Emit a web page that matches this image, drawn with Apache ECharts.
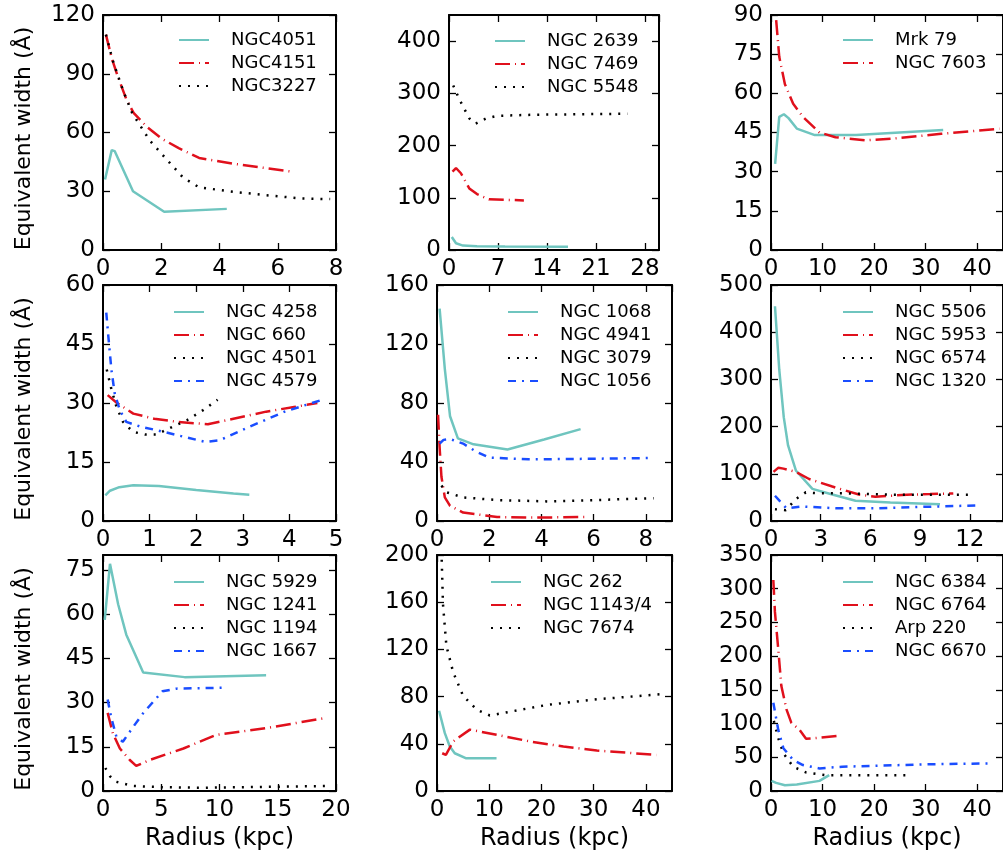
<!DOCTYPE html>
<html lang="en">
<head>
<meta charset="UTF-8">
<title>Equivalent width vs radius</title>
<script src="https://cdn.jsdelivr.net/npm/echarts@6/dist/echarts.min.js"></script>
<style>
  html, body { margin: 0; padding: 0; background: #fff; }
  #main { width: 1003px; height: 860px; }
</style>
</head>
<body>
<div id="main"></div>
<script>
// [radius (kpc), equivalent width (A)]
var ngc4051 = [[0.07,36],[0.3,51],[0.4,50.5],[1.03,30],[2.1,19.5],[4.25,21]];
var ngc4151 = [[0.1,110],[0.3,98],[0.5,89],[0.8,77],[1.05,70],[1.5,63],[2,57],[2.6,52],[3.3,47],[4.5,44],[5.5,42],[6.5,40]];
var ngc3227 = [[0.1,110],[0.35,96],[0.7,81],[1,70],[1.6,56],[2.2,46],[2.75,37],[3.3,32],[4.5,29.7],[5.6,28],[6.8,26.3],[7.8,26]];

var ngc2639 = [[0.4,25],[1,13],[2,8.5],[4,7],[8,6.5],[17,6]];
var ngc7469 = [[0.5,150],[1,157],[1.7,147],[2.9,118],[4,107],[5.7,97],[10.7,95]];
var ngc5548 = [[0.6,315],[1.5,288],[2.9,252],[3.8,242],[5.3,252],[7,257],[12,259],[25.5,261]];

var mrk79 = [[0.8,33],[1.6,51],[2.5,52],[3.4,50.5],[5,46.5],[8.5,44],[16.5,44],[33.4,46]];
var ngc7603 = [[1,88],[1.6,74],[2.7,63.5],[4.3,56],[6.2,51],[9.4,45],[12.5,43.2],[18.3,42],[23.4,42.6],[33,44.5],[44.3,46.4]];

var ngc4258 = [[0.05,6.5],[0.15,7.7],[0.35,8.6],[0.65,9.1],[1.2,8.9],[2,7.9],[2.8,7],[3.14,6.7]];
var ngc660 = [[0.1,32],[0.3,30],[0.65,27.3],[1.1,26],[1.6,25.2],[2.25,24.6],[2.8,26],[3.5,27.8],[4.1,29],[4.6,30]];
var ngc4501 = [[0.08,38.5],[0.18,33.5],[0.29,29],[0.43,25.2],[0.64,22.7],[0.9,22],[1.15,22],[1.5,24],[1.8,25.6],[2.15,28.2],[2.46,30.8]];
var ngc4579 = [[0.07,53],[0.11,47.5],[0.18,38.5],[0.25,32.5],[0.36,28.2],[0.5,25.2],[0.8,24],[1.15,23.1],[1.6,21.8],[2.2,20.1],[2.5,20.5],[3.15,24],[3.9,27.8],[4.7,30.8]];

var ngc1068 = [[0.1,144],[0.3,103],[0.5,71],[0.8,56],[1.4,52],[2.7,48.5],[4.1,55.3],[5.5,62.3]];
var ngc4941 = [[0.04,72],[0.1,50],[0.17,30],[0.3,16],[0.5,10.3],[1,5.7],[2.3,2.7],[3.6,2.3],[5.75,2.7]];
var ngc3079 = [[0.17,24],[0.36,19.5],[1,16],[2.3,14.2],[4.2,13.3],[6.1,14.2],[8.3,15.5]];
var ngc1056 = [[0.1,52.5],[0.25,55],[0.5,55.5],[1,52.5],[1.5,47],[2,43],[3.5,41.8],[6,42.2],[8.1,42.7]];

var ngc5506 = [[0.24,455],[0.5,320],[0.77,220],[1.03,160],[1.5,107],[2.5,68],[3.7,56],[5.1,43],[7.2,39.3],[10.2,35.7]];
var ngc5953 = [[0.15,104],[0.45,113],[0.75,111],[1.5,104],[2.3,89],[3.7,73],[5.3,56],[6.3,51.5],[8.2,55.7],[9.6,57],[11,58.5]];
var ngc6574 = [[0.24,25],[0.9,23],[1.5,46.5],[2.1,60.7],[2.9,58.6],[4.5,58.6],[7.2,55.7],[12.2,55.7]];
var ngc1320 = [[0.24,53.5],[0.55,41.5],[0.93,27],[1.9,30.7],[3.9,27],[6.3,27],[9.2,30],[12.5,33]];

var ngc5929 = [[0.15,58],[0.6,77],[1.3,63.3],[2,53],[3.45,40.2],[7,38.6],[14,39.2]];
var ngc1241 = [[0.4,26.5],[0.85,19.5],[1.45,14.4],[2.3,10.5],[2.85,8.5],[4,10.5],[6.9,14.4],[9.7,19],[14,21.3],[19,24.7]];
var ngc1194 = [[0.2,7.8],[0.6,5],[1.15,3.1],[2.6,1.7],[5,1.3],[8.3,1.1],[14,1.4],[19.5,1.7]];
var ngc1667 = [[0.4,31],[0.7,25],[1.15,18.4],[1.7,16.7],[2.6,21.8],[3.45,26.4],[5.1,33.8],[6.3,34.7],[10.6,35]];

var ngc262 = [[0.4,68],[1.5,49],[2.45,37.7],[3.4,32],[5.6,27.7],[11.4,27.7]];
var ngc1143 = [[1,32],[1.7,30.6],[3.1,42],[6.3,52],[11.4,47.7],[17.8,42],[24.2,37.7],[30.6,34.3],[42,30.6]];
var ngc7674 = [[0.9,196],[1.15,158],[1.8,123],[3.1,100.6],[5,80.6],[7.6,69],[10.1,64],[14.6,67.7],[21,72.9],[30.6,77.7],[42.8,82]];

var ngc6384 = [[0.1,15],[1,12],[2.7,8.5],[5,9.5],[9.4,15],[11.3,23.5]];
var ngc6764 = [[0.45,313],[0.76,266],[1.4,211],[2,156],[3,121],[3.95,101],[5.5,91],[6.8,77.5],[8.7,78.5],[13.5,82]];
var arp220 = [[0.55,104],[1.4,78.5],[2.4,56],[4.3,36],[6.8,27.5],[10.6,23.5],[27.2,23.5]];
var ngc6670 = [[0.45,131],[1.4,91],[2.4,63.5],[4.3,46],[6.2,38.5],[9.4,33.5],[13.8,36],[29.7,39.5],[42.5,41]];

// series names and data, panel by panel (row major)
var panelNames = [
  ['NGC4051', 'NGC4151', 'NGC3227'],
  ['NGC 2639', 'NGC 7469', 'NGC 5548'],
  ['Mrk 79', 'NGC 7603'],
  ['NGC 4258', 'NGC 660', 'NGC 4501', 'NGC 4579'],
  ['NGC 1068', 'NGC 4941', 'NGC 3079', 'NGC 1056'],
  ['NGC 5506', 'NGC 5953', 'NGC 6574', 'NGC 1320'],
  ['NGC 5929', 'NGC 1241', 'NGC 1194', 'NGC 1667'],
  ['NGC 262', 'NGC 1143/4', 'NGC 7674'],
  ['NGC 6384', 'NGC 6764', 'Arp 220', 'NGC 6670']
];
var panelData = [
  [ngc4051, ngc4151, ngc3227],
  [ngc2639, ngc7469, ngc5548],
  [mrk79, ngc7603],
  [ngc4258, ngc660, ngc4501, ngc4579],
  [ngc1068, ngc4941, ngc3079, ngc1056],
  [ngc5506, ngc5953, ngc6574, ngc1320],
  [ngc5929, ngc1241, ngc1194, ngc1667],
  [ngc262, ngc1143, ngc7674],
  [ngc6384, ngc6764, arp220, ngc6670]
];
// axis ranges: [min, max, interval]
var xRanges = [[0,8,2],[0,30,7],[0,45,10],[0,5,1],[0,9,2],[0,14,3],[0,20,5],[0,45,10],[0,45,10]];
var yRanges = [[0,120,30],[0,450,100],[0,90,15],[0,60,15],[0,160,40],[0,500,100],[0,80,15],[0,200,40],[0,350,50]];

// layout: grid boxes [left, top, width, height] and legend anchors [left, top]
var boxes = [
  [103,15,233,235],[449,15,210,235],[771,15,235,235],
  [103,285,233,236],[437,285,235,236],[771,285,235,236],
  [103,555,233,236],[437,555,235,236],[771,555,235,236]
];
var legendPos = [[178,31],[494,32],[842,31],[173,303],[507,303],[842,303],[173,573],[490,573],[842,573]];

var lineStyles = [
  {color: '#6fc5bf', width: 2.5, type: 'solid'},
  {color: '#e0101c', width: 2.5, type: [15, 5, 1, 5]},
  {color: '#000000', width: 2.5, type: [2, 7]},
  {color: '#1a4dff', width: 2.5, type: [8, 6, 2, 6]}
];

var myChart = echarts.init(document.getElementById('main'));
var grids = [], xAxes = [], yAxes = [], legends = [], series = [];
var font = 'DejaVu Sans';

for (var i = 0; i < 9; i++) {
  var b = boxes[i];
  grids.push({left: b[0], top: b[1], width: b[2], height: b[3], containLabel: false});
  var xr = xRanges[i], yr = yRanges[i];
  var xMaxShown = xr[1] % xr[2] === 0;
  var yMaxShown = yr[1] % yr[2] === 0;
  var frame = {show: true, onZero: false, lineStyle: {color: '#000', width: 2}};
  var tick = {show: true, inside: true, length: 7, lineStyle: {color: '#000', width: 1.3}};
  xAxes.push({
    type: 'value', gridIndex: i, position: 'bottom',
    min: xr[0], max: xr[1], interval: xr[2],
    axisLine: frame, axisTick: tick, splitLine: {show: false},
    axisLabel: {color: '#000', fontSize: 23, fontFamily: font, margin: 8, showMaxLabel: xMaxShown, showMinLabel: true},
    name: i >= 6 ? 'Radius (kpc)' : '',
    nameLocation: 'middle', nameGap: 36,
    nameTextStyle: {color: '#000', fontSize: 24, fontFamily: font}
  });
  xAxes.push({
    type: 'value', gridIndex: i, position: 'top',
    min: xr[0], max: xr[1], interval: xr[2],
    axisLine: frame, axisTick: tick, splitLine: {show: false},
    axisLabel: {show: false}
  });
  yAxes.push({
    type: 'value', gridIndex: i, position: 'left',
    min: yr[0], max: yr[1], interval: yr[2],
    axisLine: frame, axisTick: tick, splitLine: {show: false},
    axisLabel: {color: '#000', fontSize: 23, fontFamily: font, margin: 8, showMaxLabel: yMaxShown, showMinLabel: true},
    name: i % 3 === 0 ? 'Equivalent width (Å)' : '',
    nameLocation: 'middle', nameGap: 68,
    nameTextStyle: {color: '#000', fontSize: 22, fontFamily: font, padding: [0, 12, 0, 0]}
  });
  yAxes.push({
    type: 'value', gridIndex: i, position: 'right',
    min: yr[0], max: yr[1], interval: yr[2],
    axisLine: frame, axisTick: tick, splitLine: {show: false},
    axisLabel: {show: false}
  });
  legends.push({
    data: panelNames[i],
    left: legendPos[i][0], top: legendPos[i][1],
    orient: 'vertical', padding: 0,
    itemWidth: 30, itemHeight: 14, itemGap: 5,
    selectedMode: false,
    itemStyle: {opacity: 0},
    textStyle: {color: '#000', fontSize: 18, fontFamily: font, lineHeight: 18, padding: [0, 0, 0, 17]}
  });
  for (var k = 0; k < panelNames[i].length; k++) {
    series.push({
      name: panelNames[i][k], type: 'line',
      xAxisIndex: 2 * i, yAxisIndex: 2 * i,
      data: panelData[i][k],
      symbol: 'none', smooth: false, animation: false,
      color: lineStyles[k].color,
      lineStyle: lineStyles[k]
    });
  }
}

var option = {
  backgroundColor: '#fff',
  animation: false,
  textStyle: {fontFamily: font},
  grid: grids,
  xAxis: xAxes,
  yAxis: yAxes,
  legend: legends,
  series: series
};
myChart.setOption(option);
</script>
</body>
</html>
